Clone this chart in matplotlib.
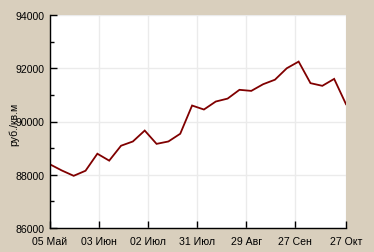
import matplotlib
matplotlib.use("Agg")
import matplotlib.pyplot as plt
import numpy as np
import pandas as pd
from matplotlib.ticker import MultipleLocator

# Data
dates = pd.date_range("2013-05-05", periods=26, freq="7D")
values = [88390, 88160, 87960, 88150, 88790, 88530, 89090, 89250, 89660, 89160,
          89250, 89540, 90600, 90450, 90750, 90860, 91190, 91150, 91400, 91570,
          92000, 92250, 91440, 91340, 91600, 90650]
tick_dates = pd.to_datetime(["2013-05-05", "2013-06-03", "2013-07-02", "2013-07-31",
                             "2013-08-29", "2013-09-27", "2013-10-27"])
tick_labels = ["05 Май", "03 Июн", "02 Июл", "31 Июл", "29 Авг", "27 Сен", "27 Окт"]
y_label = "руб./кв.м"

plt.rcParams['font.family'] = ['Liberation Sans', 'DejaVu Sans']
bg = "#d9cfbd"

fig = plt.figure(figsize=(3.74, 2.53), dpi=100, facecolor=bg)
ax = fig.add_axes([50/374, 1-229/253, 296/374, 213/253])
ax.set_facecolor("white")

ax.plot(dates, values, color="#800000", lw=1.3, solid_joinstyle="miter")

ax.set_xlim(tick_dates[0], tick_dates[-1])
ax.set_ylim(86000, 94000)
ax.set_xticks(tick_dates)
ax.set_xticklabels(tick_labels)
ax.yaxis.set_major_locator(MultipleLocator(2000))
ax.yaxis.set_minor_locator(MultipleLocator(1000))

ax.grid(True, which="major", color="#ebebeb", lw=1.0)
ax.set_axisbelow(True)

for s in ["top", "right"]:
    ax.spines[s].set_visible(False)
for s in ["left", "bottom"]:
    ax.spines[s].set_color("black")
    ax.spines[s].set_linewidth(1.0)

ax.tick_params(axis="both", which="major", direction="in", length=5, width=1,
               labelsize=7.6, color="black", pad=4)
ax.tick_params(axis="y", which="minor", direction="in", length=3, width=1)
ax.tick_params(axis="x", pad=6)

fig.text(14/374, 1-124/253, y_label, rotation=90, ha="center", va="center", fontsize=7.6)

fig.savefig("out.png", dpi=100, facecolor=bg)
